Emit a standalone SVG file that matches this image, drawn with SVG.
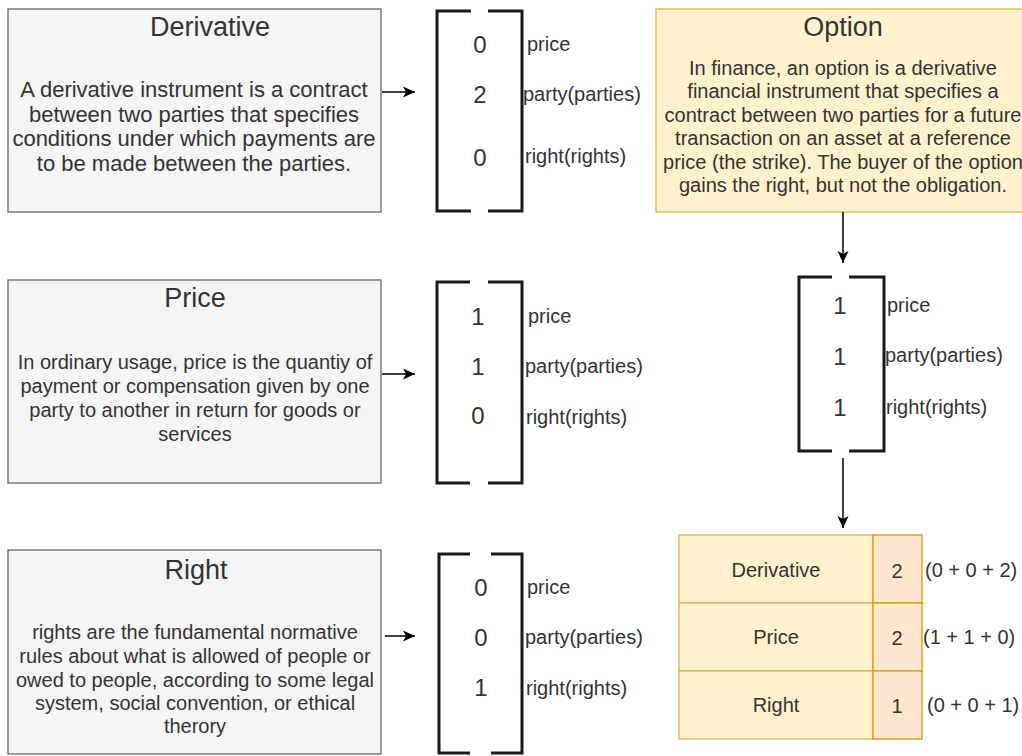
<svg xmlns="http://www.w3.org/2000/svg" width="1022" height="756" viewBox="0 0 1022 756">
  <style>
    .box { fill: #f5f5f5; stroke: #666666; stroke-width: 1.3; }
    .opt { fill: #fff2cc; stroke: #d6b656; stroke-width: 1.3; }
    .cell { fill: #fff2cc; stroke: #d6b656; stroke-width: 1.3; }
    .val { fill: #ffe6cc; stroke: #d79b00; stroke-width: 1.3; }
    .bracket { fill: none; stroke: #1a1a1a; stroke-width: 3; }
    .title { font-family: "Liberation Sans", Arial, sans-serif; font-size: 27px; fill: #333333; text-anchor: middle; }
    .body { font-family: "Liberation Sans", Arial, sans-serif; font-size: 20px; fill: #333333; text-anchor: middle; }
    .body-lg { font-size: 22px; }
    .num { font-family: "Liberation Sans", Arial, sans-serif; font-size: 24px; fill: #333333; text-anchor: middle; }
    .lbl { font-family: "Liberation Sans", Arial, sans-serif; font-size: 20px; fill: #333333; }
    .tbl { font-family: "Liberation Sans", Arial, sans-serif; font-size: 20px; fill: #333333; text-anchor: middle; }
    .edge { fill: none; stroke: #000000; stroke-width: 1.5; }
  </style>
  <defs>
    <marker id="arrow" markerUnits="userSpaceOnUse" markerWidth="14" markerHeight="12" refX="12" refY="6" orient="auto">
      <path d="M0,0.5 L12,6 L0,11.5 L3,6 Z" fill="#000000"/>
    </marker>
  </defs>

  <!-- Definition: Derivative -->
  <g id="derivative">
    <rect class="box" x="8" y="9" width="373" height="203"/>
    <text class="title" x="210" y="36">Derivative</text>
    <text class="body body-lg" x="194" y="97">A derivative instrument is a contract</text>
    <text class="body body-lg" x="194" y="122">between two parties that specifies</text>
    <text class="body body-lg" x="194" y="146">conditions under which payments are</text>
    <text class="body body-lg" x="194" y="171">to be made between the parties.</text>
  </g>

  <!-- Definition: Price -->
  <g id="price">
    <rect class="box" x="8" y="280" width="373" height="203"/>
    <text class="title" x="195" y="307">Price</text>
    <text class="body" x="195" y="369">In ordinary usage, price is the quantiy of</text>
    <text class="body" x="195" y="393">payment or compensation given by one</text>
    <text class="body" x="195" y="417">party to another in return for goods or</text>
    <text class="body" x="195" y="441">services</text>
  </g>

  <!-- Definition: Right -->
  <g id="right">
    <rect class="box" x="8" y="550" width="373" height="204"/>
    <text class="title" x="196" y="579">Right</text>
    <text class="body" x="195" y="639">rights are the fundamental normative</text>
    <text class="body" x="195" y="663">rules about what is allowed of people or</text>
    <text class="body" x="195" y="687">owed to people, according to some legal</text>
    <text class="body" x="195" y="710">system, social convention, or ethical</text>
    <text class="body" x="195" y="733">therory</text>
  </g>

  <!-- Definition: Option -->
  <g id="option">
    <rect class="opt" x="656" y="9" width="372" height="203"/>
    <text class="title" x="843" y="36">Option</text>
    <text class="body" x="843" y="75">In finance, an option is a derivative</text>
    <text class="body" x="843" y="98">financial instrument that specifies a</text>
    <text class="body" x="843" y="122">contract between two parties for a future</text>
    <text class="body" x="843" y="145">transaction on an asset at a reference</text>
    <text class="body" x="843" y="169">price (the strike). The buyer of the option</text>
    <text class="body" x="843" y="192">gains the right, but not the obligation.</text>
  </g>

  <!-- Vector: Derivative -->
  <g id="vec-derivative">
    <path class="bracket" d="M471,11 H437 V211 H471 M488,11 H522 V211 H488"/>
    <text class="num" x="480" y="53">0</text>
    <text class="num" x="480" y="103">2</text>
    <text class="num" x="480" y="166">0</text>
    <text class="lbl" x="527" y="51">price</text>
    <text class="lbl" x="523" y="101">party(parties)</text>
    <text class="lbl" x="525" y="163">right(rights)</text>
  </g>

  <!-- Vector: Price -->
  <g id="vec-price">
    <path class="bracket" d="M470,282 H437 V483 H470 M488,282 H522 V483 H488"/>
    <text class="num" x="478" y="325">1</text>
    <text class="num" x="478" y="375">1</text>
    <text class="num" x="478" y="424">0</text>
    <text class="lbl" x="528" y="323">price</text>
    <text class="lbl" x="525" y="373">party(parties)</text>
    <text class="lbl" x="526" y="424">right(rights)</text>
  </g>

  <!-- Vector: Right -->
  <g id="vec-right">
    <path class="bracket" d="M470,554 H439 V753 H470 M491,554 H522 V753 H491"/>
    <text class="num" x="481" y="596">0</text>
    <text class="num" x="481" y="646">0</text>
    <text class="num" x="481" y="696">1</text>
    <text class="lbl" x="527" y="594">price</text>
    <text class="lbl" x="525" y="644">party(parties)</text>
    <text class="lbl" x="526" y="695">right(rights)</text>
  </g>

  <!-- Vector: Option -->
  <g id="vec-option">
    <path class="bracket" d="M832,277 H799 V451 H832 M849,277 H884 V451 H849"/>
    <text class="num" x="840" y="314">1</text>
    <text class="num" x="840" y="365">1</text>
    <text class="num" x="840" y="416">1</text>
    <text class="lbl" x="887" y="312">price</text>
    <text class="lbl" x="885" y="362">party(parties)</text>
    <text class="lbl" x="886" y="414">right(rights)</text>
  </g>

  <!-- Similarity table -->
  <g id="score-table">
    <rect class="cell" x="679" y="535" width="194" height="68"/>
    <rect class="cell" x="679" y="603" width="194" height="68"/>
    <rect class="cell" x="679" y="671" width="194" height="68"/>
    <rect class="val" x="873" y="535" width="49" height="68"/>
    <rect class="val" x="873" y="603" width="49" height="68"/>
    <rect class="val" x="873" y="671" width="49" height="68"/>
    <text class="tbl" x="776" y="577">Derivative</text>
    <text class="tbl" x="776" y="644">Price</text>
    <text class="tbl" x="776" y="712">Right</text>
    <text class="tbl" x="897" y="578">2</text>
    <text class="tbl" x="897" y="645">2</text>
    <text class="tbl" x="897" y="713">1</text>
    <text class="lbl" x="925" y="577">(0 + 0 + 2)</text>
    <text class="lbl" x="923" y="644">(1 + 1 + 0)</text>
    <text class="lbl" x="927" y="712">(0 + 0 + 1)</text>
  </g>

  <!-- Connectors -->
  <g id="connectors">
    <path class="edge" d="M382,92 H415" marker-end="url(#arrow)"/>
    <path class="edge" d="M382,374 H415" marker-end="url(#arrow)"/>
    <path class="edge" d="M385,636 H415" marker-end="url(#arrow)"/>
    <path class="edge" d="M843,212 V263" marker-end="url(#arrow)"/>
    <path class="edge" d="M843,458 V528" marker-end="url(#arrow)"/>
  </g>
</svg>
